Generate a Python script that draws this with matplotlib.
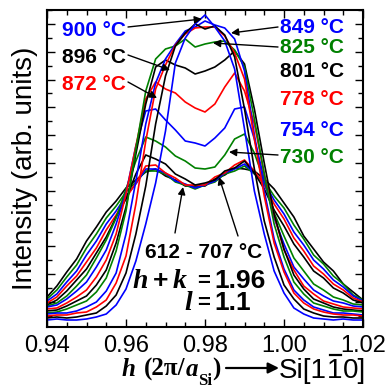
import matplotlib
matplotlib.use("Agg")
import matplotlib.pyplot as plt
from matplotlib.lines import Line2D
from matplotlib.ticker import FixedLocator, MultipleLocator

# scattering coordinate h (2pi/a_Si)
h = [0.9400, 0.9425, 0.9450, 0.9475, 0.9500, 0.9525, 0.9550, 0.9575, 0.9600,
     0.9625, 0.9650, 0.9675, 0.9700, 0.9725, 0.9750, 0.9775, 0.9800, 0.9825,
     0.9850, 0.9875, 0.9900, 0.9925, 0.9950, 0.9975, 1.0000, 1.0025, 1.0050,
     1.0075, 1.0100, 1.0125, 1.0150, 1.0175, 1.0200]
h_ticks = [0.94, 0.96, 0.98, 1.00, 1.02]
h_tick_labels = ["0.94", "0.96", "0.98", "1.00", "1.02"]

# intensity profiles (arb. units), one per anneal temperature
I900 = [10, 11, 10, 10, 11, 13, 16, 25, 41, 69, 106, 147, 199, 267, 292, 306, 315,
        303, 289, 261, 201, 139, 96, 59, 37, 22, 16, 12, 11, 10, 11, 10, 10]
I896 = [12, 13, 12, 13, 15, 17, 24, 35, 57, 96, 144, 206, 254, 284, 297, 306, 301,
        304, 295, 273, 221, 161, 109, 73, 45, 31, 21, 17, 14, 13, 13, 12, 12]
I872 = [14, 15, 15, 17, 18, 23, 30, 47, 74, 126, 189, 241, 265, 285, 296, 302, 303,
        303, 294, 277, 251, 191, 134, 87, 58, 37, 27, 21, 18, 16, 15, 15, 14]
I849 = [16, 17, 17, 19, 23, 28, 39, 57, 96, 149, 206, 247, 271, 286, 299, 303, 309,
        305, 302, 291, 259, 195, 139, 91, 61, 40, 30, 23, 20, 17, 17, 16, 15]
I825 = [17, 18, 21, 25, 29, 38, 52, 79, 119, 181, 239, 271, 281, 284, 291, 283, 286,
        288, 289, 280, 263, 211, 156, 106, 73, 48, 36, 27, 24, 21, 19, 19, 18]
I801 = [19, 20, 24, 29, 34, 45, 60, 87, 123, 176, 226, 263, 270, 265, 262, 256, 259,
        263, 270, 279, 266, 221, 167, 116, 81, 55, 41, 31, 27, 23, 21, 20, 19]
I778 = [21, 22, 27, 33, 40, 53, 70, 96, 136, 184, 231, 248, 241, 237, 228, 222, 218,
        226, 243, 257, 239, 206, 156, 115, 80, 60, 44, 36, 29, 26, 23, 22, 21]
I754 = [23, 25, 31, 39, 48, 63, 80, 106, 137, 184, 219, 221, 210, 200, 189, 187, 184,
        192, 202, 221, 223, 191, 151, 112, 86, 63, 51, 40, 34, 29, 27, 24, 23]
I730 = [24, 27, 34, 44, 55, 72, 90, 112, 141, 169, 193, 189, 183, 174, 169, 162, 161,
        163, 175, 191, 196, 177, 149, 117, 94, 72, 59, 46, 40, 33, 30, 26, 25]
I707 = [25, 30, 39, 50, 61, 77, 93, 113, 131, 156, 175, 171, 166, 156, 151, 145, 147,
        150, 159, 162, 169, 157, 141, 120, 104, 86, 73, 59, 52, 42, 37, 30, 27]
I683 = [27, 33, 44, 54, 68, 82, 100, 115, 132, 147, 164, 165, 157, 152, 145, 145, 145,
        153, 157, 165, 170, 159, 145, 126, 111, 92, 79, 64, 56, 46, 40, 32, 28]
I659 = [29, 36, 48, 59, 75, 89, 106, 119, 134, 146, 161, 161, 157, 149, 146, 142, 145,
        149, 157, 161, 166, 157, 147, 130, 116, 98, 85, 70, 61, 50, 43, 34, 29]
I636 = [31, 40, 53, 65, 82, 96, 112, 124, 138, 148, 159, 159, 156, 148, 145, 141, 145,
        148, 156, 159, 164, 156, 149, 134, 122, 105, 91, 75, 66, 54, 46, 35, 30]
I612 = [33, 44, 58, 71, 89, 103, 118, 129, 142, 150, 158, 161, 154, 150, 144, 144, 144,
        151, 155, 162, 161, 159, 151, 141, 127, 113, 94, 81, 68, 59, 46, 38, 30]

BLUE, GREEN, BLACK, RED = "#0000ff", "#008000", "#000000", "#ff0000"

# drawn from coolest to hottest
curves = [(I612, BLACK), (I636, GREEN), (I659, BLUE), (I683, RED), (I707, BLACK),
          (I730, GREEN), (I754, BLUE), (I778, RED), (I801, BLACK), (I825, GREEN),
          (I849, BLUE), (I872, RED), (I896, BLACK), (I900, BLUE)]

SANS = ["Liberation Sans", "DejaVu Sans"]
SERIF = ["Liberation Serif", "DejaVu Serif"]
plt.rcParams["font.family"] = SANS

W, H = 390, 389
fig = plt.figure(figsize=(W / 100, H / 100), dpi=100)
ax = fig.add_axes([47 / W, 62 / H, 316 / W, 317 / H])
renderer = fig.canvas.get_renderer()


def P(x, y):
    """pixel position (from top-left) -> figure fraction"""
    return (x / W, 1 - y / H)


def run(x, y, pieces):
    """lay out text pieces one after another starting at pixel x; returns extents"""
    boxes = []
    for s, kw in pieces:
        dy = kw.pop("dy", 0)
        t = fig.text(*P(x, y + dy), s, va="baseline", **kw)
        bb = t.get_window_extent(renderer)
        boxes.append(bb)
        x = bb.x1
    return boxes


for vals, col in curves:
    ax.plot(h, vals, color=col, lw=1.2)

ax.set_xlim(0.94, 1.02)
ax.set_ylim(3, 320)
ax.xaxis.set_major_locator(FixedLocator(h_ticks))
ax.xaxis.set_minor_locator(MultipleLocator(0.005))
ax.xaxis.set_major_formatter(plt.NullFormatter())
ax.yaxis.set_major_locator(FixedLocator([320 - 13.9 * (2 * j + 1) for j in range(12)]))
ax.yaxis.set_minor_locator(FixedLocator([320 - 13.9 * 2 * j for j in range(12)]))
ax.yaxis.set_major_formatter(plt.NullFormatter())
ax.tick_params(which="both", direction="in", top=True, right=True, width=1)
ax.tick_params(which="major", length=6)
ax.tick_params(which="minor", length=3.5)
for s in ax.spines.values():
    s.set_linewidth(1.5)

# tick labels centred under their ticks
for v, lab in zip(h_ticks, h_tick_labels):
    ax.text(v, -0.025, lab, transform=ax.get_xaxis_transform(), ha="center", va="top",
            size=17, clip_on=False)

ax.set_ylabel("Intensity (arb. units)", fontsize=20)
ax.yaxis.set_label_coords(-0.03, 0.5)

# x axis label: h (2pi/a_Si) -> Si[1 -1 0]
fig.text(*P(122, 376), "h", family=SERIF, weight="bold", style="italic", size=18, va="baseline")
run(144, 376, [("(2\u03c0/", dict(family=SERIF, weight="bold", size=18)),
               ("a", dict(family=SERIF, weight="bold", style="italic", size=18)),
               ("Si", dict(family=SERIF, weight="bold", size=12, dy=9)),
               (")", dict(family=SERIF, weight="bold", size=18))])
ax.annotate("", xy=P(279, 368), xycoords="figure fraction", xytext=P(226, 368),
            textcoords="figure fraction", annotation_clip=False,
            arrowprops=dict(arrowstyle="-|>", color="k", lw=1.6, mutation_scale=16,
                            shrinkA=0, shrinkB=0))
bx = run(279, 378, [("Si[1", dict(size=20)), ("1", dict(size=20)), ("0]", dict(size=20))])
b1 = bx[1]
fig.add_artist(Line2D([(b1.x0 + 3) / W, (b1.x1 - 2) / W], [1 - 355 / H, 1 - 355 / H],
                      transform=fig.transFigure, color="k", lw=1.6))

# temperature labels
labels = [("900 \u00b0C", BLUE, 62, 36), ("896 \u00b0C", BLACK, 62, 63),
          ("872 \u00b0C", RED, 62, 90), ("849 \u00b0C", BLUE, 280, 33),
          ("825 \u00b0C", GREEN, 280, 53), ("801 \u00b0C", BLACK, 280, 77),
          ("778 \u00b0C", RED, 280, 105), ("754 \u00b0C", BLUE, 280, 136),
          ("730 \u00b0C", GREEN, 280, 163), ("612 - 707 \u00b0C", BLACK, 145, 258)]
for txt, col, x, y in labels:
    fig.text(*P(x, y), txt, color=col, weight="bold", size=15, va="baseline")

arrows = [((128, 27), (202, 19)), ((128, 55), (170, 70)), ((128, 82), (157, 98)),
          ((278, 27), (231, 33)), ((278, 47), (213, 43)), ((278, 155), (229, 152)),
          ((175, 233), (183, 187)), ((238, 236), (219, 177))]
for start, tip in arrows:
    ax.annotate("", xy=P(*tip), xycoords="figure fraction", xytext=P(*start),
                textcoords="figure fraction", annotation_clip=False,
                arrowprops=dict(arrowstyle="-|>", color="k", lw=1.0, mutation_scale=11,
                                shrinkA=0, shrinkB=0))

# reflection indices
ital = dict(family=SERIF, weight="bold", style="italic", size=20, va="baseline")
bold = dict(weight="bold", size=19, va="baseline")
eq = dict(weight="bold", size=16, va="baseline")
fig.text(*P(132, 288), "h", **ital)
fig.text(*P(153, 288), "+", **bold)
fig.text(*P(173, 288), "k", **ital)
fig.text(*P(197, 287), "=", **eq)
fig.text(*P(214, 288), "1.96", **bold)
fig.text(*P(184, 310), "l", **ital)
fig.text(*P(197, 309), "=", **eq)
fig.text(*P(214, 310), "1.1", **bold)

fig.savefig("out.png", dpi=100)
